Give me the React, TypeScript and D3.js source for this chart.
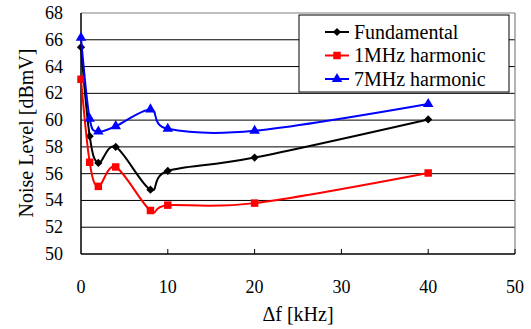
// Noise level vs frequency offset, three harmonics, Excel-style smoothed lines.
import { useEffect, useRef } from "react";
import * as d3 from "d3";

const freqs = [0, 1, 2, 4, 8, 10, 20, 40];
const fundamental = [65.45, 58.8, 56.8, 58.0, 54.8, 56.2, 57.2, 60.05];
const harmonic1M = [63.05, 56.85, 55.05, 56.5, 53.25, 53.65, 53.8, 56.05];
const harmonic7M = [66.15, 60.1, 59.15, 59.55, 60.8, 59.35, 59.2, 61.2];

const xTicks = [0, 10, 20, 30, 40, 50];
const yTicks = [50, 52, 54, 56, 58, 60, 62, 64, 66, 68];

type Series = { name: string; color: string; marker: "diamond" | "square" | "triangle"; values: number[] };

const series: Series[] = [
  { name: "Fundamental", color: "#000000", marker: "diamond", values: fundamental },
  { name: "1MHz harmonic", color: "#ff0000", marker: "square", values: harmonic1M },
  { name: "7MHz harmonic", color: "#0000ff", marker: "triangle", values: harmonic7M },
];

const FONT = "'Liberation Serif', 'Times New Roman', serif";

function drawMarker(
  g: d3.Selection<SVGGElement, unknown, null, undefined>,
  kind: Series["marker"],
  cx: number,
  cy: number,
  color: string,
) {
  if (kind === "diamond") {
    g.append("path")
      .attr("d", d3.symbol(d3.symbolSquare, 34)())
      .attr("transform", `translate(${cx},${cy}) rotate(45)`)
      .attr("fill", color);
  } else if (kind === "square") {
    g.append("path")
      .attr("d", d3.symbol(d3.symbolSquare, 56)())
      .attr("transform", `translate(${cx},${cy})`)
      .attr("fill", color);
  } else {
    g.append("path")
      .attr("d", d3.symbol(d3.symbolTriangle, 48)())
      .attr("transform", `translate(${cx},${cy})`)
      .attr("fill", color);
  }
}

export default function App() {
  const svgRef = useRef<SVGSVGElement | null>(null);

  useEffect(() => {
    if (!svgRef.current) return;
    const svg = d3.select(svgRef.current);
    svg.selectAll("*").remove();

    const W = 531;
    const H = 329;
    const left = 81;
    const right = 515;
    const top = 13;
    const bottom = 254;

    svg.attr("width", W).attr("height", H).attr("viewBox", `0 0 ${W} ${H}`);
    svg.append("rect").attr("width", W).attr("height", H).attr("fill", "#fff");

    const x = d3.scaleLinear().domain([0, 50]).range([left, right]);
    const y = d3.scaleLinear().domain([50, 68]).range([bottom, top]);

    const g = svg.append("g");

    // horizontal gridlines
    g.append("g")
      .selectAll("line")
      .data(yTicks.filter((t) => t > 50 && t < 68))
      .join("line")
      .attr("x1", left)
      .attr("x2", right)
      .attr("y1", (d) => y(d))
      .attr("y2", (d) => y(d))
      .attr("stroke", "#000")
      .attr("stroke-width", 1);

    // plot frame (top/right grey)
    g.append("line")
      .attr("x1", left).attr("x2", right)
      .attr("y1", top).attr("y2", top)
      .attr("stroke", "#808080").attr("stroke-width", 1.2);
    g.append("line")
      .attr("x1", right).attr("x2", right)
      .attr("y1", top).attr("y2", bottom)
      .attr("stroke", "#808080").attr("stroke-width", 1.2);

    // x axis with inward ticks
    g.append("line")
      .attr("x1", left).attr("x2", right)
      .attr("y1", bottom).attr("y2", bottom)
      .attr("stroke", "#000").attr("stroke-width", 1.5);
    g.append("g")
      .selectAll("line")
      .data(xTicks.filter((t) => t > 0))
      .join("line")
      .attr("x1", (d) => x(d))
      .attr("x2", (d) => x(d))
      .attr("y1", bottom)
      .attr("y2", bottom - 5)
      .attr("stroke", "#000");
    g.append("line")
      .attr("x1", left).attr("x2", left)
      .attr("y1", top).attr("y2", bottom)
      .attr("stroke", "#000").attr("stroke-width", 1.5);

    // tick labels
    g.append("g")
      .selectAll("text")
      .data(yTicks)
      .join("text")
      .attr("x", 63)
      .attr("y", (d) => y(d) + 6)
      .attr("text-anchor", "end")
      .attr("font-family", FONT)
      .attr("font-size", 18)
      .attr("fill", "#000")
      .text((d) => String(d));
    g.append("g")
      .selectAll("text")
      .data(xTicks)
      .join("text")
      .attr("x", (d) => x(d))
      .attr("y", 293)
      .attr("text-anchor", "middle")
      .attr("font-family", FONT)
      .attr("font-size", 18)
      .attr("fill", "#000")
      .text((d) => String(d));

    // axis titles
    g.append("text")
      .attr("x", (left + right) / 2)
      .attr("y", 321)
      .attr("text-anchor", "middle")
      .attr("font-family", FONT)
      .attr("font-size", 20)
      .text("Δf [kHz]");
    g.append("text")
      .attr("transform", `translate(33,133) rotate(-90)`)
      .attr("text-anchor", "middle")
      .attr("font-family", FONT)
      .attr("font-size", 20)
      .text("Noise Level [dBmV]");

    // series
    const line = d3
      .line<number>()
      .x((_, i) => x(freqs[i]))
      .y((d) => y(d))
      .curve(d3.curveCatmullRom.alpha(0));

    for (const s of series) {
      g.append("path")
        .datum(s.values)
        .attr("fill", "none")
        .attr("stroke", s.color)
        .attr("stroke-width", 2)
        .attr("d", line);
      const mk = g.append("g");
      s.values.forEach((v, i) => drawMarker(mk, s.marker, x(freqs[i]), y(v), s.color));
    }

    // legend
    const lg = g.append("g").attr("transform", "translate(299,15)");
    lg.append("rect")
      .attr("width", 210)
      .attr("height", 77)
      .attr("fill", "#fff")
      .attr("stroke", "#000")
      .attr("stroke-width", 1);
    series.forEach((s, i) => {
      const cy = 17 + i * 23.5;
      lg.append("line")
        .attr("x1", 26).attr("x2", 50)
        .attr("y1", cy).attr("y2", cy)
        .attr("stroke", s.color).attr("stroke-width", 2);
      drawMarker(lg, s.marker, 38, cy, s.color);
      lg.append("text")
        .attr("x", 55)
        .attr("y", cy + 6.5)
        .attr("font-family", FONT)
        .attr("font-size", 20)
        .attr("fill", "#000")
        .text(s.name);
    });
  }, []);

  return <svg ref={svgRef} style={{ position: "absolute", left: 0, top: 0 }} />;
}
